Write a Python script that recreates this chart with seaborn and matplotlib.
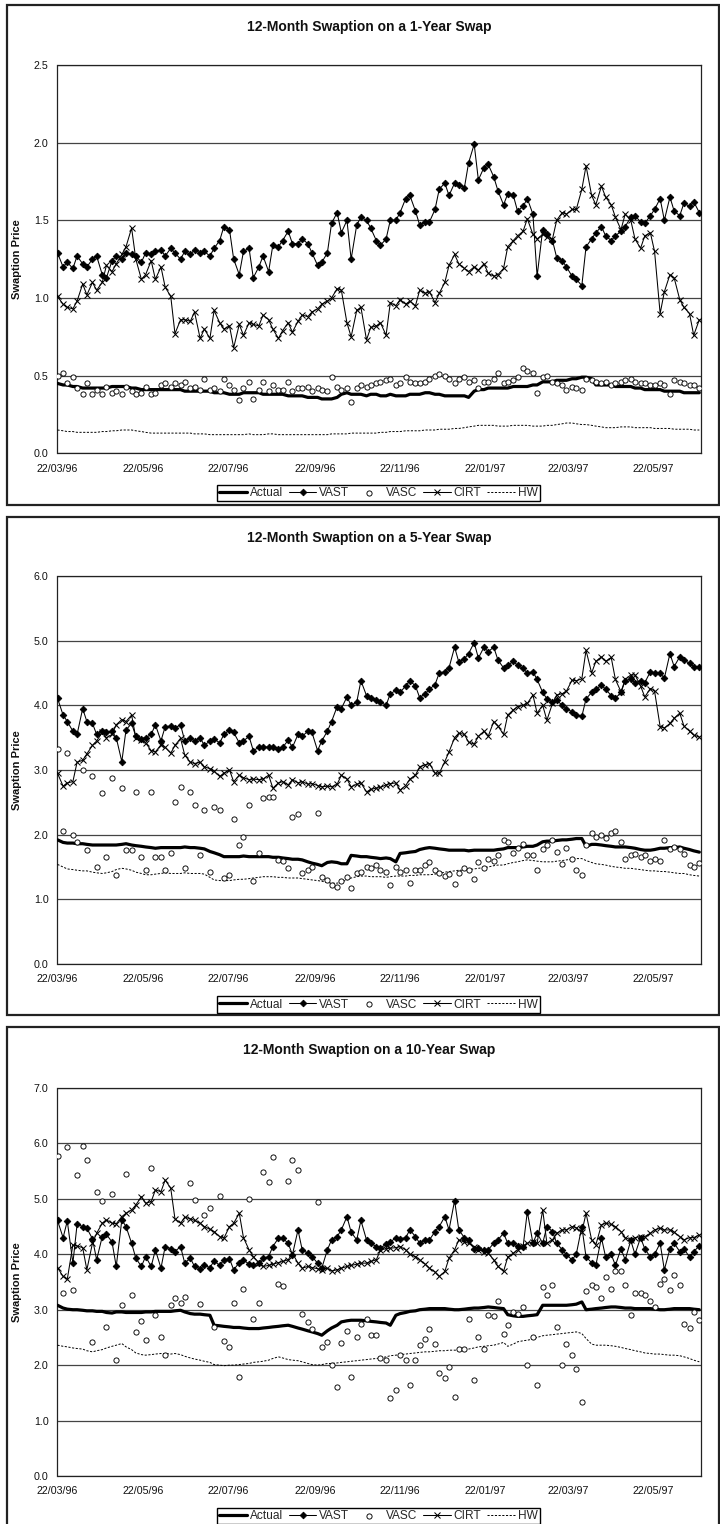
import numpy as np
import pandas as pd
import matplotlib
matplotlib.use("Agg")
import matplotlib.pyplot as plt
from matplotlib.patches import Rectangle
import seaborn as sns

sns.set_theme(style="white")
plt.rcParams["font.family"] = ["Liberation Sans", "DejaVu Sans"]

# Observation dates: Tuesdays and Fridays, 22 Mar 1996 - 24 Jun 1997
obs_dates = pd.date_range("1996-03-22", "1997-06-24", freq="W-FRI").union(
    pd.date_range("1996-03-22", "1997-06-24", freq="W-TUE"))

tick_labels = ["22/03/96", "22/05/96", "22/07/96", "22/09/96",
               "22/11/96", "22/01/97", "22/03/97", "22/05/97"]
series_names = ["Actual", "VAST", "VASC", "CIRT", "HW"]

# ---------------- 12-month option on a 1-year swap ----------------
actual_1y = [.45,.44,.44,.43,.43,.42,.42,.42, .42,.42,.42,.43,.43,.43,.43,.42,
             .42,.41,.41,.41,.41,.41,.41,.41, .41,.41,.40,.40,.40,.40,.40,.40,
             .39,.39,.39,.38,.38,.38,.39,.39, .39,.39,.38,.38,.38,.38,.38,.37,
             .37,.37,.37,.36,.36,.36,.35,.35, .35,.36,.38,.39,.38,.38,.38,.37,
             .38,.38,.37,.37,.38,.37,.37,.37, .38,.38,.38,.39,.39,.38,.38,.37,
             .37,.37,.37,.37,.36,.40,.41,.41, .42,.42,.42,.42,.42,.43,.43,.43,
             .43,.44,.44,.46,.46,.46,.47,.47, .47,.48,.48,.49,.49,.48,.44,.44,
             .44,.44,.43,.43,.43,.43,.42,.42, .41,.41,.41,.41,.40,.40,.40,.40,
             .39,.39,.39,.39]
vast_1y = [1.29,1.20,1.23,1.19,1.27,1.22,1.20,1.25, 1.27,1.15,1.13,1.24,1.27,1.25,1.29,1.28,
           1.27,1.23,1.29,1.28,1.30,1.31,1.27,1.32, 1.29,1.25,1.30,1.28,1.31,1.29,1.30,1.27,
           1.32,1.37,1.46,1.44,1.25,1.15,1.30,1.32, 1.13,1.20,1.27,1.17,1.34,1.33,1.37,1.43,
           1.35,1.35,1.38,1.35,1.29,1.21,1.23,1.29, 1.48,1.55,1.42,1.50,1.25,1.47,1.52,1.50,
           1.45,1.37,1.34,1.38,1.50,1.50,1.55,1.64, 1.66,1.56,1.47,1.49,1.49,1.57,1.70,1.74,
           1.66,1.74,1.73,1.71,1.87,1.99,1.76,1.84, 1.86,1.78,1.69,1.60,1.67,1.66,1.56,1.59,
           1.64,1.54,1.14,1.44,1.41,1.37,1.26,1.24, 1.20,1.14,1.12,1.08,1.33,1.38,1.42,1.46,
           1.40,1.37,1.40,1.43,1.46,1.52,1.53,1.49, 1.48,1.53,1.57,1.64,1.50,1.65,1.56,1.53,
           1.61,1.59,1.62,1.55]
vasc_1y = [.50,.52,.45,.49,.42,.38,.45,.38, .41,.38,.43,.39,.40,.38,.43,.40,
           .38,.39,.43,.38,.39,.44,.45,.43, .45,.44,.46,.42,.43,.41,.48,.41,
           .42,.40,.48,.44,.41,.34,.42,.46, .35,.41,.46,.40,.44,.41,.41,.46,
           .40,.42,.42,.43,.40,.42,.41,.40, .49,.43,.41,.42,.33,.42,.44,.43,
           .44,.45,.46,.47,.48,.44,.45,.49, .46,.45,.45,.46,.48,.50,.51,.50,
           .48,.45,.48,.49,.46,.47,.42,.46, .46,.48,.52,.45,.46,.47,.49,.55,
           .53,.52,.39,.49,.50,.46,.45,.44, .41,.43,.42,.41,.48,.47,.46,.45,
           .46,.44,.45,.46,.47,.48,.46,.45, .45,.44,.44,.45,.44,.38,.47,.46,
           .45,.44,.44,.42]
cirt_1y = [1.01,0.96,0.94,0.93,0.98,1.09,1.02,1.10, 1.05,1.10,1.21,1.17,1.22,1.28,1.33,1.45,
           1.25,1.12,1.15,1.24,1.12,1.20,1.07,1.01, 0.77,0.86,0.86,0.85,0.91,0.74,0.80,0.74,
           0.92,0.84,0.80,0.82,0.68,0.83,0.76,0.84, 0.83,0.82,0.89,0.86,0.80,0.74,0.79,0.84,
           0.78,0.85,0.89,0.88,0.91,0.93,0.96,0.98, 1.00,1.06,1.05,0.84,0.75,0.92,0.94,0.73,
           0.81,0.82,0.84,0.76,0.97,0.95,0.99,0.96, 0.98,0.95,1.05,1.03,1.04,0.97,1.03,1.10,
           1.21,1.28,1.22,1.19,1.17,1.20,1.18,1.22, 1.16,1.14,1.15,1.19,1.33,1.37,1.40,1.43,
           1.51,1.41,1.38,1.41,1.39,1.38,1.50,1.55, 1.54,1.57,1.57,1.70,1.85,1.66,1.60,1.72,
           1.65,1.60,1.52,1.44,1.54,1.50,1.38,1.32, 1.40,1.42,1.30,0.90,1.04,1.15,1.13,0.99,
           0.94,0.90,0.76,0.86]
hw_1y = [.15,.145,.14,.14,.135,.135,.135,.135, .135,.14,.14,.145,.145,.15,.15,.15,
         .145,.14,.135,.13,.13,.13,.13,.13, .13,.13,.13,.13,.125,.125,.125,.12,
         .12,.12,.12,.12,.12,.12,.12,.125, .12,.12,.12,.125,.125,.12,.12,.12,
         .12,.12,.12,.12,.12,.12,.12,.12, .125,.125,.125,.125,.13,.13,.13,.13,
         .13,.13,.135,.135,.14,.14,.14,.145, .145,.145,.145,.15,.15,.15,.155,.155,
         .155,.16,.16,.165,.17,.175,.18,.18, .18,.18,.175,.175,.175,.18,.18,.18,
         .18,.175,.175,.175,.18,.18,.185,.19, .195,.195,.19,.185,.185,.18,.175,.17,
         .165,.165,.165,.17,.17,.17,.165,.165, .165,.165,.16,.16,.16,.16,.155,.155,
         .155,.155,.15,.15]

# ---------------- 12-month option on a 5-year swap ----------------
actual_5y = [1.92,1.88,1.87,1.87,1.86,1.86,1.85,1.84, 1.84,1.84,1.84,1.84,1.84,1.85,1.86,1.84,
             1.83,1.82,1.81,1.80,1.79,1.80,1.80,1.80, 1.80,1.80,1.81,1.80,1.80,1.79,1.78,1.74,
             1.72,1.69,1.66,1.66,1.66,1.66,1.67,1.66, 1.66,1.66,1.66,1.66,1.65,1.65,1.64,1.63,
             1.62,1.62,1.61,1.58,1.56,1.54,1.52,1.57, 1.58,1.57,1.55,1.55,1.68,1.67,1.66,1.66,
             1.65,1.64,1.63,1.64,1.63,1.58,1.71,1.72, 1.73,1.74,1.77,1.79,1.80,1.79,1.78,1.77,
             1.76,1.76,1.76,1.76,1.75,1.76,1.76,1.76, 1.76,1.76,1.77,1.78,1.80,1.80,1.80,1.81,
             1.82,1.82,1.84,1.89,1.90,1.90,1.91,1.92, 1.92,1.93,1.94,1.94,1.82,1.85,1.85,1.84,
             1.83,1.82,1.81,1.81,1.81,1.80,1.79,1.77, 1.76,1.76,1.77,1.79,1.79,1.80,1.80,1.81,
             1.79,1.77,1.75,1.73]
vast_5y = [4.11,3.85,3.75,3.60,3.55,3.95,3.75,3.72, 3.55,3.60,3.58,3.60,3.50,3.13,3.62,3.72,
           3.52,3.48,3.50,3.55,3.70,3.45,3.67,3.68, 3.65,3.70,3.45,3.50,3.45,3.50,3.38,3.45,
           3.48,3.42,3.55,3.62,3.58,3.42,3.45,3.52, 3.30,3.35,3.36,3.35,3.36,3.33,3.35,3.46,
           3.35,3.55,3.52,3.60,3.58,3.30,3.45,3.60, 3.75,3.98,3.95,4.13,4.00,4.05,4.38,4.15,
           4.12,4.08,4.05,4.00,4.18,4.23,4.20,4.30, 4.38,4.30,4.12,4.18,4.25,4.32,4.50,4.52,
           4.58,4.90,4.67,4.72,4.80,4.97,4.73,4.90, 4.83,4.90,4.70,4.58,4.62,4.68,4.62,4.57,
           4.50,4.52,4.40,4.20,4.10,4.05,4.08,4.00, 3.95,3.90,3.85,3.83,4.10,4.20,4.25,4.31,
           4.25,4.15,4.11,4.20,4.38,4.41,4.35,4.38, 4.35,4.52,4.50,4.50,4.42,4.80,4.60,4.75,
           4.70,4.65,4.60,4.60]
vasc_5y = [3.33,2.05,3.27,2.00,1.89,3.00,1.76,2.90, 1.50,2.64,1.66,2.87,1.38,2.72,1.76,1.76,
           2.66,1.66,1.46,2.66,1.66,1.66,1.46,1.71, 2.51,2.74,1.49,2.66,2.46,1.68,2.38,1.43,
           2.43,2.38,1.33,1.38,2.24,1.84,1.97,2.46, 1.28,1.71,2.56,2.59,2.59,1.61,1.59,1.49,
           2.27,2.32,1.41,1.45,1.50,2.33,1.35,1.30, 1.22,1.19,1.29,1.35,1.17,1.40,1.43,1.50,
           1.48,1.53,1.45,1.43,1.22,1.50,1.43,1.45, 1.26,1.45,1.45,1.53,1.58,1.45,1.41,1.36,
           1.39,1.24,1.41,1.49,1.45,1.32,1.58,1.49, 1.63,1.60,1.68,1.92,1.89,1.71,1.79,1.86,
           1.68,1.68,1.45,1.78,1.84,1.92,1.73,1.55, 1.79,1.63,1.45,1.38,1.84,2.02,1.97,2.00,
           1.95,2.02,2.05,1.89,1.63,1.68,1.70,1.65, 1.68,1.60,1.62,1.60,1.92,1.78,1.81,1.78,
           1.70,1.53,1.50,1.56]
cirt_5y = [2.95,2.75,2.80,2.82,3.12,3.15,3.25,3.38, 3.45,3.58,3.50,3.55,3.70,3.78,3.75,3.85,
           3.50,3.46,3.42,3.30,3.28,3.39,3.35,3.26, 3.38,3.49,3.23,3.12,3.10,3.12,3.05,3.02,
           2.98,2.90,2.95,3.00,2.82,2.92,2.88,2.85, 2.86,2.85,2.86,2.92,2.72,2.80,2.82,2.77,
           2.85,2.80,2.82,2.78,2.79,2.76,2.74,2.75, 2.74,2.78,2.92,2.86,2.74,2.78,2.80,2.66,
           2.70,2.72,2.73,2.77,2.79,2.80,2.69,2.76, 2.86,2.92,3.05,3.08,3.10,2.95,2.95,3.13,
           3.28,3.50,3.57,3.55,3.43,3.40,3.52,3.60, 3.52,3.75,3.68,3.55,3.85,3.93,3.98,4.00,
           4.03,4.16,3.88,4.00,3.77,4.03,4.16,4.18, 4.22,4.39,4.38,4.41,4.85,4.50,4.68,4.75,
           4.68,4.74,4.40,4.21,4.40,4.47,4.47,4.30, 4.13,4.26,4.22,3.67,3.65,3.72,3.80,3.88,
           3.68,3.60,3.54,3.51]
hw_5y = [1.54,1.50,1.47,1.46,1.45,1.44,1.44,1.42, 1.41,1.40,1.41,1.43,1.46,1.48,1.47,1.45,
         1.42,1.40,1.38,1.38,1.39,1.40,1.41,1.40, 1.40,1.40,1.41,1.40,1.40,1.40,1.39,1.34,
         1.30,1.29,1.29,1.29,1.30,1.31,1.31,1.32, 1.33,1.34,1.35,1.35,1.35,1.34,1.34,1.33,
         1.33,1.33,1.32,1.31,1.30,1.29,1.28,1.26, 1.25,1.25,1.27,1.30,1.33,1.35,1.36,1.36,
         1.35,1.35,1.35,1.34,1.35,1.36,1.36,1.36, 1.37,1.37,1.38,1.38,1.38,1.39,1.40,1.42,
         1.43,1.44,1.45,1.45,1.46,1.47,1.48,1.49, 1.50,1.52,1.53,1.53,1.55,1.57,1.58,1.60,
         1.61,1.60,1.59,1.58,1.58,1.58,1.59,1.60, 1.61,1.62,1.63,1.63,1.60,1.57,1.55,1.54,
         1.53,1.51,1.50,1.49,1.48,1.48,1.47,1.46, 1.45,1.44,1.44,1.43,1.43,1.42,1.41,1.40,
         1.40,1.38,1.37,1.36]

# ---------------- 12-month option on a 10-year swap ----------------
actual_10y = [3.08,3.03,3.01,3.00,3.00,2.99,2.98,2.98, 2.97,2.97,2.95,2.94,2.96,2.96,2.95,2.95,
              2.95,2.95,2.96,2.96,2.97,2.97,2.97,2.97, 2.98,2.99,2.96,2.93,2.92,2.92,2.91,2.90,
              2.72,2.71,2.70,2.69,2.68,2.68,2.67,2.66, 2.66,2.66,2.67,2.68,2.69,2.70,2.71,2.72,
              2.70,2.67,2.65,2.62,2.60,2.57,2.54,2.62, 2.67,2.72,2.78,2.80,2.81,2.81,2.81,2.80,
              2.79,2.78,2.77,2.76,2.72,2.90,2.93,2.95, 2.97,2.98,3.00,3.01,3.02,3.02,3.02,3.02,
              3.01,3.00,3.00,3.01,3.02,3.03,3.03,3.04, 3.05,3.04,3.03,3.02,2.91,2.89,2.88,2.88,
              2.89,2.90,2.91,3.08,3.08,3.08,3.08,3.08, 3.08,3.09,3.10,3.14,3.00,3.01,3.02,3.03,
              3.04,3.05,3.05,3.04,3.03,3.03,3.02,3.02, 3.02,3.02,3.01,3.00,3.00,3.01,3.02,3.02,
              3.02,3.02,3.01,3.00]
vast_10y = [4.61,4.30,4.60,3.84,4.54,4.50,4.47,4.28, 3.90,4.32,4.36,4.22,3.78,4.62,4.50,4.20,
            3.93,3.78,3.96,3.78,4.08,3.75,4.14,4.10, 4.05,4.14,3.84,3.93,3.78,3.74,3.80,3.76,
            3.88,3.80,3.90,3.92,3.72,3.85,3.90,3.82, 3.80,3.85,3.93,3.96,4.14,4.29,4.29,4.20,
            3.99,4.44,4.08,4.02,3.96,3.84,3.75,4.08, 4.26,4.32,4.44,4.68,4.40,4.26,4.61,4.26,
            4.20,4.14,4.12,4.18,4.22,4.30,4.28,4.30, 4.44,4.32,4.20,4.26,4.26,4.41,4.50,4.68,
            4.44,4.97,4.44,4.30,4.26,4.10,4.11,4.08, 4.08,4.20,4.26,4.38,4.20,4.20,4.15,4.14,
            4.77,4.20,4.38,4.20,4.50,4.41,4.20,4.08, 3.99,3.90,4.00,4.50,3.95,3.85,3.80,4.30,
            3.95,4.00,3.80,4.10,3.90,4.25,4.00,4.30, 4.10,3.95,4.00,4.20,3.72,4.10,4.20,4.05,
            4.10,3.95,4.05,4.15]
vasc_10y = [5.78,3.30,5.94,3.36,5.43,5.95,5.70,2.41, 5.13,4.96,2.69,5.08,2.10,3.09,5.44,3.27,
            2.59,2.80,2.45,5.56,2.90,2.51,2.18,3.09, 3.22,3.13,3.23,5.29,4.98,3.10,4.71,4.84,
            2.69,5.06,2.44,2.33,3.13,1.79,3.37,4.99, 2.84,3.13,5.49,5.30,5.75,3.46,3.43,5.32,
            5.71,5.52,2.92,2.78,2.66,4.95,2.32,2.42, 2.01,1.61,2.40,2.62,1.79,2.51,2.75,2.84,
            2.54,2.54,2.12,2.09,1.40,1.55,2.18,2.09, 1.64,2.09,2.36,2.48,2.66,2.39,1.85,1.76,
            1.96,1.42,2.30,2.30,2.83,1.73,2.51,2.30, 2.90,2.89,3.15,2.57,2.72,2.96,2.93,3.05,
            2.01,2.51,1.64,3.41,3.26,3.44,2.69,2.00, 2.39,2.18,1.93,1.34,3.34,3.44,3.41,3.21,
            3.59,3.38,3.69,3.69,3.44,2.90,3.30,3.30, 3.26,3.15,3.05,3.47,3.55,3.36,3.62,3.44,
            2.75,2.67,2.96,2.81]
cirt_10y = [3.76,3.60,3.55,4.17,4.15,4.12,3.72,4.20, 4.38,4.56,4.62,4.56,4.55,4.68,4.74,4.80,
            4.89,5.04,4.92,4.95,5.16,5.13,5.34,5.19, 4.64,4.56,4.67,4.64,4.61,4.56,4.50,4.45,
            4.41,4.32,4.29,4.50,4.56,4.74,4.30,4.08, 3.96,3.85,3.78,3.80,3.82,3.85,3.87,3.90,
            4.02,3.84,3.75,3.78,3.76,3.74,3.72,3.75, 3.70,3.72,3.75,3.78,3.80,3.82,3.84,3.84,
            3.87,3.90,4.08,4.10,4.11,4.12,4.14,4.08, 4.00,3.96,3.90,3.82,3.75,3.68,3.60,3.69,
            3.93,4.08,4.26,4.22,4.20,4.14,4.08,4.05, 4.02,3.90,3.78,3.69,3.95,4.02,4.08,4.15,
            4.20,4.22,4.20,4.80,4.20,4.26,4.38,4.44, 4.44,4.50,4.48,4.40,4.74,4.26,4.17,4.53,
            4.56,4.54,4.50,4.41,4.30,4.26,4.30,4.32, 4.32,4.38,4.44,4.47,4.44,4.44,4.40,4.32,
            4.26,4.30,4.30,4.35]
hw_10y = [2.36,2.34,2.33,2.31,2.30,2.29,2.26,2.24, 2.26,2.28,2.31,2.34,2.36,2.39,2.33,2.28,
          2.22,2.19,2.18,2.19,2.20,2.21,2.21,2.20, 2.21,2.19,2.16,2.13,2.11,2.09,2.07,2.05,
          2.01,2.00,1.99,2.00,2.00,2.01,2.02,2.03, 2.05,2.06,2.07,2.09,2.12,2.15,2.13,2.10,
          2.09,2.08,2.06,2.03,2.01,2.00,2.01,2.03, 2.03,2.04,2.05,2.06,2.07,2.08,2.09,2.10,
          2.11,2.12,2.13,2.15,2.17,2.18,2.19,2.20, 2.21,2.22,2.23,2.24,2.24,2.25,2.26,2.26,
          2.27,2.27,2.27,2.28,2.29,2.31,2.33,2.34, 2.35,2.36,2.38,2.41,2.34,2.38,2.42,2.44,
          2.45,2.47,2.50,2.53,2.54,2.55,2.56,2.57, 2.58,2.59,2.60,2.57,2.48,2.38,2.36,2.36,
          2.36,2.35,2.34,2.32,2.30,2.28,2.26,2.24, 2.22,2.21,2.20,2.20,2.19,2.18,2.18,2.17,
          2.15,2.12,2.09,2.06]

panel_titles = ["12-Month Swaption on a 1-Year Swap",
                "12-Month Swaption on a 5-Year Swap",
                "12-Month Swaption on a 10-Year Swap"]
panel_ymax = [2.5, 6.0, 7.0]
panel_ystep = [0.5, 1.0, 1.0]

W, H = 720, 1524
fig = plt.figure(figsize=(W / 100, H / 100), dpi=100)

# pixel layout of each chart block: (box top, box bottom, plot top, plot bottom, title y, legend y)
blocks = [(5, 505, 65, 453.3, 27, 493),
          (517, 1015, 576, 964, 538, 1004.5),
          (1027, 1535, 1088, 1476, 1050, 1516)]
plot_left, plot_right = 57.5, 700.7

tick_dates = pd.to_datetime(tick_labels, format="%d/%m/%y")
x_start, x_end = pd.Timestamp("1996-03-22"), pd.Timestamp("1997-06-25")

data = [(actual_1y, vast_1y, vasc_1y, cirt_1y, hw_1y),
        (actual_5y, vast_5y, vasc_5y, cirt_5y, hw_5y),
        (actual_10y, vast_10y, vasc_10y, cirt_10y, hw_10y)]


def draw_panel(ax, actual, vast, vasc, cirt, hw):
    d = obs_dates
    sns.lineplot(x=d, y=actual, ax=ax, color="black", linewidth=2.3,
                 label=series_names[0], estimator=None, sort=False, zorder=3)
    sns.lineplot(x=d, y=vast, ax=ax, color="black", linewidth=0.75,
                 marker="D", markersize=3.4, markeredgewidth=0.6,
                 markerfacecolor="black", markeredgecolor="black",
                 label=series_names[1], estimator=None, sort=False, zorder=4)
    sns.scatterplot(x=d, y=vasc, ax=ax, marker="o", s=14,
                    facecolor="white", edgecolor="black", linewidth=0.65,
                    label=series_names[2], zorder=5)
    sns.lineplot(x=d, y=cirt, ax=ax, color="black", linewidth=0.75,
                 marker="x", markersize=4.0, markeredgewidth=0.75,
                 markeredgecolor="black", markerfacecolor="black",
                 label=series_names[3], estimator=None, sort=False, zorder=6)
    sns.lineplot(x=d, y=hw, ax=ax, color="black", linewidth=0.7,
                 linestyle=(0, (2.2, 1.6)),
                 label=series_names[4], estimator=None, sort=False, zorder=3)


for i, (box_t, box_b, p_t, p_b, title_y, leg_y) in enumerate(blocks):
    # outer frame of the chart block
    fig.add_artist(Rectangle((7 / W, 1 - box_b / H), (719 - 7) / W, (box_b - box_t) / H,
                             transform=fig.transFigure, fill=False,
                             edgecolor="#222222", linewidth=1.6, zorder=0))
    ax = fig.add_axes([plot_left / W, 1 - p_b / H,
                       (plot_right - plot_left) / W, (p_b - p_t) / H])
    draw_panel(ax, *data[i])

    ymax, ystep = panel_ymax[i], panel_ystep[i]
    yt = np.round(np.arange(0, ymax + 1e-9, ystep), 1)
    ax.set_ylim(0, ymax)
    ax.set_yticks(yt)
    ax.set_yticklabels([f"{v:.1f}" for v in yt])
    ax.set_xlim(x_start, x_end)
    ax.set_xticks(tick_dates)
    ax.set_xticklabels(tick_labels)
    ax.yaxis.grid(True, color="#444444", linewidth=0.9)
    ax.xaxis.grid(False)
    ax.set_axisbelow(True)
    ax.tick_params(axis="both", direction="out", length=4, width=0.8,
                   color="black", labelsize=7.7, labelcolor="#111111", pad=2.5)
    ax.tick_params(axis="x", pad=3.5)
    for s in ax.spines.values():
        s.set_color("#222222")
        s.set_linewidth(0.9)
    ax.set_xlabel("")
    ax.set_ylabel("Swaption Price", fontsize=8, fontweight="bold", color="#111111")
    ax.yaxis.set_label_coords((22 - plot_left) / (plot_right - plot_left), 0.5)

    fig.text(369 / W, 1 - title_y / H, panel_titles[i], ha="center", va="center",
             fontsize=10, fontweight="bold", color="#111111")

    handles, labels = ax.get_legend_handles_labels()
    leg = ax.legend(handles, labels, loc="center",
                    bbox_to_anchor=(378.5 / W, 1 - leg_y / H),
                    bbox_transform=fig.transFigure, ncol=5, fontsize=8.6,
                    frameon=True, fancybox=False, framealpha=1, edgecolor="black",
                    borderpad=0.2, handlelength=2.3, handletextpad=0.25,
                    columnspacing=0.5, scatterpoints=1, borderaxespad=0)
    leg.get_frame().set_linewidth(1.0)

fig.savefig("out.png", dpi=100, facecolor="white")
